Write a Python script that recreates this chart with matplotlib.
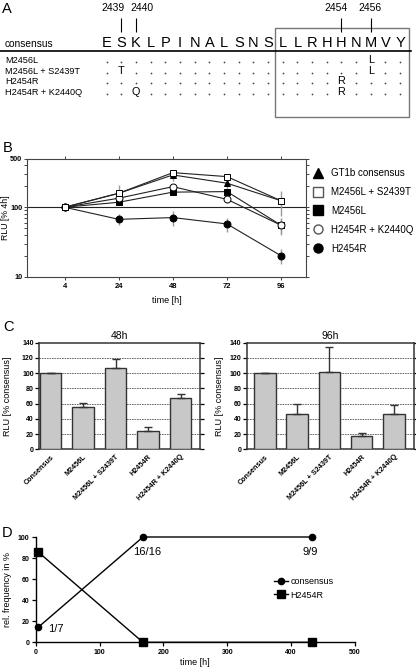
import matplotlib
matplotlib.use("Agg")
import matplotlib.pyplot as plt
from matplotlib.lines import Line2D
from matplotlib.patches import Rectangle
import numpy as np

plt.rcParams["font.family"] = ["Liberation Sans", "DejaVu Sans"]

W, H = 416, 668

# ---- panel A: alignment ----
consensus_seq = list("ESKLPINALSNSLLRHHNMVY")
variant_names = ["M2456L", "M2456L + S2439T", "H2454R", "H2454R + K2440Q"]
variant_subs = [{18: "L"}, {1: "T", 18: "L"}, {16: "R"}, {2: "Q", 16: "R"}]
marked_pos = [1, 2, 16, 18]
marked_labels = ["2439", "2440", "2454", "2456"]

# ---- panel B: time course (RLU % of 4h) ----
time_labels = ["4", "24", "48", "72", "96"]
b_names = ["GT1b consensus", "M2456L + S2439T", "M2456L", "H2454R + K2440Q", "H2454R"]
b_gt1b = [100, 159, 292, 222, 124]
b_gt1b_err = [0, 50, 50, 45, 50]
b_m2456l_s2439t = [100, 159, 315, 276, 124]
b_m2456l_s2439t_err = [0, 20, 20, 20, 15]
b_m2456l = [100, 118, 165, 168, 55]
b_m2456l_err = [0, 10, 15, 15, 15]
b_h2454r_k2440q = [100, 135, 198, 130, 55]
b_h2454r_k2440q_err = [0, 10, 15, 15, 12]
b_h2454r = [100, 67, 71, 57.5, 20]
b_h2454r_err = [0, 12, 17, 13, 5]

# ---- panel C: RLU % consensus ----
bar_labels = ["Consensus", "M2456L", "M2456L + S2439T", "H2454R", "H2454R + K2440Q"]
rlu_48 = [100, 56, 107, 24, 67]
err_48 = [0, 5, 11, 5, 6]
rlu_96 = [100, 46, 102, 17, 46]
err_96 = [0, 13, 32, 4, 12]

# ---- panel D: relative frequency ----
seq_times = [4, 168, 432]
freq_consensus = [14.3, 100, 100]
freq_h2454r = [85.7, 0, 0]
count_labels = ["1/7", "16/16", "9/9"]

fig = plt.figure(figsize=(W / 100, H / 100), dpi=100)


def px_axes(left, top, right, bottom):
    return fig.add_axes([left / W, 1 - bottom / H, (right - left) / W, (bottom - top) / H])


def panel_label(x, y, s):
    fig.text(x / W, 1 - y / H, s, fontsize=10.5, va="baseline", ha="left")


# ================= A =================
axA = px_axes(0, 0, W, 120)
x0, dx = 106.7, 14.67
axA.set_xlim(-x0 / dx, (W - x0) / dx)
axA.set_ylim(120, 0)
axA.axis("off")
for i, aa in enumerate(consensus_seq):
    axA.text(i, 46.7, aa, fontsize=10.5, ha="center", va="baseline")
axA.text((5 - x0) / dx, 46.7, "consensus", fontsize=7.3, ha="left", va="baseline")
axA.axhline(50.7, color="black", lw=1.2, xmax=411 / W)
row_base = [63.3, 74, 84.3, 95]
for name, subs, yb in zip(variant_names, variant_subs, row_base):
    axA.text((5 - x0) / dx, yb, name, fontsize=6.6, ha="left", va="baseline")
    same = [i for i in range(len(consensus_seq)) if i not in subs]
    axA.scatter(same, [yb - 0.9] * len(same), s=1.6, color="#444444", lw=0)
    for i, aa in subs.items():
        axA.text(i, yb, aa, fontsize=7.8, ha="center", va="baseline")
axA.vlines(marked_pos, 18, 32, color="black", lw=0.8)
label_shift = [-0.55, 0.4, -0.35, -0.05]
for p, lab, s in zip(marked_pos, marked_labels, label_shift):
    axA.text(p + s, 10.7, lab, fontsize=7.5, ha="center", va="baseline")
axA.add_patch(Rectangle((11.45, 28), 9.15, 88.7, fill=False, ec="#777777", lw=1.0))
panel_label(2, 13.3, "A")

# ================= B =================
axB = px_axes(27.3, 158.7, 306, 276.7)
xb = np.arange(len(time_labels))
specs = [
    (b_h2454r, b_h2454r_err, "o", "black", 1),
    (b_m2456l, b_m2456l_err, "s", "black", 2),
    (b_h2454r_k2440q, b_h2454r_k2440q_err, "o", "white", 3),
    (b_gt1b, b_gt1b_err, "^", "black", 4),
    (b_m2456l_s2439t, b_m2456l_s2439t_err, "s", "white", 5),
]
for vals, errs, mk, fc, z in specs:
    axB.errorbar(xb, vals, yerr=errs, fmt="none", ecolor="#9a9a9a", elinewidth=1.0, zorder=z)
for vals, errs, mk, fc, z in specs:
    axB.plot(xb, vals, color="#222222", lw=0.8, marker=mk, mfc=fc, mec="black",
             mew=0.7, ms=5, zorder=z + 10)
axB.axhline(100, color="#222222", lw=0.8, zorder=0)
axB.set_yscale("log")
axB.set_ylim(10, 500)
axB.set_xlim(-0.69, 4.46)
axB.set_yticks([10, 100, 500])
axB.set_yticklabels(["10", "100", "500"], fontsize=5.2, fontweight="bold")
axB.set_xticks(xb)
axB.set_xticklabels(time_labels, fontsize=5.5, fontweight="bold")
axB.tick_params(which="both", direction="out", top=True, right=True, labeltop=False,
                labelright=False, width=0.7, color="#444444")
axB.tick_params(which="major", length=2.5, pad=1.2)
axB.tick_params(axis="x", which="major", pad=2)
axB.tick_params(which="minor", length=2)
for sp in axB.spines.values():
    sp.set_linewidth(0.8)
    sp.set_color("#444444")
axB.set_xlabel("time [h]", fontsize=6.5, labelpad=4)
axB.set_ylabel("RLU [% 4h]", fontsize=6.3)
axB.yaxis.set_label_coords((10 - 27.3) / (306 - 27.3), 0.5)
leg_handles = [
    Line2D([], [], ls="none", marker="^", mfc="black", mec="black", ms=6.5),
    Line2D([], [], ls="none", marker="s", mfc="white", mec="#555555", ms=6.5),
    Line2D([], [], ls="none", marker="s", mfc="black", mec="black", ms=6.5),
    Line2D([], [], ls="none", marker="o", mfc="white", mec="#555555", ms=6.5),
    Line2D([], [], ls="none", marker="o", mfc="black", mec="black", ms=6.5),
]
fig.legend(leg_handles, b_names, loc="upper left", bbox_to_anchor=(313 / W, 1 - 168 / H),
           frameon=False, fontsize=7, handlelength=1.0, handletextpad=0.9,
           labelspacing=0.92, borderpad=0, borderaxespad=0)
panel_label(3, 152.3, "B")


# ================= C =================
def bar_panel(ax, vals, errs, title, xlim, label_x):
    xc = np.arange(len(bar_labels))
    ax.bar(xc, vals, width=0.67, color="#c8c8c8", edgecolor="#333333", lw=1.0, zorder=3)
    ax.errorbar(xc, vals, yerr=[np.zeros(len(errs)), errs], fmt="none", ecolor="#333333",
                elinewidth=1.0, capsize=3, capthick=1.0, zorder=4)
    ax.set_xlim(*xlim)
    ax.set_ylim(0, 140)
    ax.set_yticks(np.arange(0, 141, 20))
    ax.set_yticklabels([str(v) for v in range(0, 141, 20)], fontsize=5, fontweight="bold")
    for g in range(20, 121, 20):
        ax.axhline(g, color="#555555", lw=0.6, ls=(0, (2, 1)), zorder=1)
    ax.set_xticks(xc)
    ax.set_xticklabels(bar_labels, fontsize=5.2, fontweight="bold", rotation=45,
                       ha="right", rotation_mode="anchor")
    ax.tick_params(axis="x", length=0, pad=3)
    ax.tick_params(axis="y", direction="out", right=True, length=3, width=0.9, pad=1)
    for sp in ax.spines.values():
        sp.set_linewidth(1.1)
        sp.set_color("#333333")
    ax.set_ylabel("RLU [% consensus]", fontsize=6.5)
    ax.yaxis.set_label_coords(label_x, 0.5)
    ax.set_title(title, fontsize=7.5, pad=3)


axC1 = px_axes(39.3, 342.7, 200, 449.3)
bar_panel(axC1, rlu_48, err_48, "48h", (-0.345, 4.6), (12 - 39.3) / (200 - 39.3))
axC2 = px_axes(246.7, 342.7, 414, 449.3)
bar_panel(axC2, rlu_96, err_96, "96h", (-0.56, 4.62), (224 - 246.7) / (414 - 246.7))
panel_label(3, 330.7, "C")

# ================= D =================
axD = px_axes(35.7, 537, 355, 642.3)
axD.plot(seq_times, freq_consensus, color="black", lw=1.0, marker="o", ms=4.5,
         mfc="black", mec="black", clip_on=False, zorder=4, label="consensus")
axD.plot(seq_times, freq_h2454r, color="black", lw=1.0, marker="s", ms=6,
         mfc="black", mec="black", clip_on=False, zorder=4, label="H2454R")
offsets = [(13, -1), (3, -11), (-1, -11)]
for t, f, lab, off in zip(seq_times, freq_consensus, count_labels, offsets):
    axD.annotate(lab, (t, f), xytext=off, textcoords="offset points", fontsize=8,
                 ha="center", va="center")
axD.set_xlim(0, 500)
axD.set_ylim(0, 100)
axD.set_xticks(np.arange(0, 501, 100))
axD.set_xticklabels([str(v) for v in range(0, 501, 100)], fontsize=5, fontweight="bold")
axD.set_yticks(np.arange(0, 101, 20))
axD.set_yticklabels([str(v) for v in range(0, 101, 20)], fontsize=5, fontweight="bold")
axD.spines["top"].set_visible(False)
axD.spines["right"].set_visible(False)
for sp in ("left", "bottom"):
    axD.spines[sp].set_linewidth(1.0)
axD.tick_params(direction="out", length=3, width=0.9, pad=1.5)
axD.set_xlabel("time [h]", fontsize=6.5, labelpad=2)
axD.set_ylabel("rel. frequency in %", fontsize=6.5, labelpad=4)
axD.legend(loc="upper left", bbox_to_anchor=(274 / W, 1 - 577 / H),
           bbox_transform=fig.transFigure, frameon=False, fontsize=6.5,
           handlelength=1.5, handletextpad=0.35, labelspacing=0.5, borderpad=0,
           borderaxespad=0)
panel_label(2, 537.3, "D")

fig.savefig("out.png", dpi=100)
